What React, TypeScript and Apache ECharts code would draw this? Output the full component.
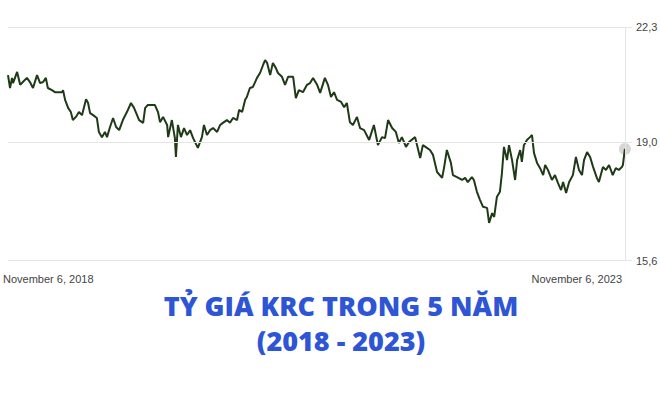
import React, { useEffect, useRef } from "react";
import * as echarts from "echarts";

// Day offsets from November 6, 2018 and KRC rate values
const dayOffsets = [
  0, 6, 12, 15, 27, 36, 44, 56, 65, 74, 86, 95, 104, 112, 118, 130, 139, 148, 160, 163,
  169, 178, 186, 192, 201, 210, 219, 225, 231, 237, 243, 252, 263, 269, 278, 287, 293, 302, 311, 320,
  329, 340, 352, 364, 373, 382, 388, 400, 406, 414, 426, 435, 444, 450, 459, 471, 474, 485, 494, 497,
  503, 512, 521, 530, 539, 548, 562, 574, 580, 589, 598, 607, 619, 628, 636, 648, 657, 666, 678, 684,
  693, 702, 707, 716, 725, 737, 746, 755, 761, 767, 776, 784, 793, 799, 811, 820, 829, 844, 852, 861,
  873, 885, 894, 903, 915, 924, 938, 947, 956, 965, 974, 986, 995, 1003, 1012, 1021, 1033, 1042, 1054, 1069,
  1083, 1095, 1107, 1116, 1125, 1137, 1148, 1157, 1166, 1178, 1187, 1205, 1220, 1228, 1240, 1249, 1258, 1270, 1285, 1291,
  1299, 1311, 1317, 1329, 1344, 1353, 1361, 1373, 1379, 1388, 1397, 1406, 1418, 1424, 1433, 1439, 1447, 1456, 1462, 1468,
  1477, 1483, 1492, 1501, 1507, 1516, 1521, 1527, 1536, 1545, 1551, 1557, 1566, 1575, 1584, 1590, 1598, 1610, 1619, 1628,
  1637, 1643, 1652, 1661, 1672, 1681, 1690, 1699, 1705, 1714, 1723, 1732, 1743, 1749, 1761, 1770, 1779, 1790, 1799, 1808,
  1817, 1820, 1826,
];

const rates = [
  20.92, 20.55, 20.84, 20.69, 21.01, 20.64, 20.72, 20.84, 20.72, 20.55, 20.92, 20.69, 20.72, 20.84, 20.55, 20.49, 20.43, 20.43, 20.43, 20.49,
  20.21, 19.98, 19.86, 19.63, 19.72, 19.86, 19.77, 20.0, 20.23, 20.12, 19.83, 19.77, 19.69, 19.29, 19.14, 19.29, 19.14, 19.43, 19.69, 19.43,
  19.34, 19.63, 19.86, 20.12, 19.98, 19.77, 19.63, 19.55, 19.98, 20.06, 20.06, 20.06, 19.86, 19.57, 19.72, 19.49, 19.14, 19.63, 19.11, 18.57,
  19.49, 19.14, 19.4, 19.2, 19.34, 19.11, 18.83, 19.14, 19.49, 19.2, 19.34, 19.4, 19.29, 19.49, 19.55, 19.63, 19.55, 19.69, 19.63, 19.92,
  19.86, 20.21, 20.29, 20.55, 20.58, 20.84, 20.98, 21.21, 21.35, 21.27, 20.92, 21.27, 21.12, 20.98, 20.87, 20.64, 20.87, 20.87, 20.26, 20.49,
  20.43, 20.64, 20.69, 20.84, 20.64, 20.41, 20.84, 20.64, 20.29, 20.43, 20.21, 20.15, 20.0, 20.12, 19.57, 19.49, 19.72, 19.4, 19.34, 19.06,
  19.49, 18.91, 19.14, 19.11, 19.63, 19.4, 19.29, 18.97, 19.14, 18.86, 19.0, 19.14, 18.54, 18.91, 18.83, 18.77, 18.63, 18.14, 17.97, 18.28,
  18.77, 18.4, 18.05, 17.99, 17.91, 17.97, 17.85, 17.99, 17.91, 17.57, 17.34, 17.14, 17.11, 16.68, 16.96, 16.85, 17.42, 17.57, 18.11, 18.86,
  18.48, 18.91, 18.48, 17.91, 18.48, 18.77, 18.43, 18.91, 19.06, 19.14, 19.2, 18.68, 18.4, 18.25, 18.05, 18.34, 18.2, 17.91, 18.05, 17.82,
  17.62, 17.85, 17.54, 17.85, 18.05, 18.57, 18.2, 18.05, 18.48, 18.71, 18.57, 18.28, 17.97, 17.85, 18.28, 18.2, 18.34, 18.05, 18.25, 18.2,
  18.28, 18.34, 18.8,
];

const yTicks = [15.6, 19.0, 22.3];
const xLabels = ["November 6, 2018", "November 6, 2023"];
const titleLines = ["TỶ GIÁ KRC TRONG 5 NĂM", "(2018 - 2023)"];

const DAY = 86400000;
const START = Date.UTC(2018, 10, 6);
const END = Date.UTC(2023, 10, 6);

export default function App() {
  const ref = useRef<HTMLDivElement>(null);

  useEffect(() => {
    if (!ref.current) return;
    const chart = echarts.init(ref.current, undefined, { renderer: "svg" });
    const data = dayOffsets.map((d, i) => [START + d * DAY, rates[i]]);
    const last = data[data.length - 1];
    const labelFont = '"Liberation Sans", Arial, sans-serif';
    const titleFont = '800 27px "Open Sans", sans-serif';

    chart.setOption({
      animation: false,
      backgroundColor: "#ffffff",
      grid: { left: 8, right: 28, top: 27, bottom: 143.5, containLabel: false },
      xAxis: {
        type: "time",
        min: START,
        max: END + 21 * DAY,
        show: false,
      },
      yAxis: {
        type: "value",
        min: 15.6,
        max: 22.3,
        position: "right",
        show: false,
      },
      series: [
        {
          type: "scatter",
          z: 1,
          data: [last],
          symbolSize: 12,
          itemStyle: { color: "rgba(170,170,170,0.6)" },
          silent: true,
          markLine: {
            silent: true,
            symbol: "none",
            animation: false,
            lineStyle: { color: "#e5e5e5", width: 1, type: "solid" },
            label: {
              position: "end",
              distance: 4,
              color: "#444",
              fontSize: 11,
              fontFamily: labelFont,
              padding: [0, 0, 4, 0],
            },
            data: [
              ...yTicks.map((v) => ({
                yAxis: v,
                label: { formatter: v.toFixed(1).replace(".", ",") },
              })),
              { xAxis: END, label: { show: false } },
            ],
          },
        },
        {
          type: "line",
          z: 2,
          data,
          showSymbol: false,
          lineStyle: { color: "#1e3a16", width: 2 },
          silent: true,
        },
      ],
      graphic: [
        {
          type: "text",
          left: 3,
          top: 273,
          style: { text: xLabels[0], fill: "#444", font: `11px ${labelFont}` },
        },
        {
          type: "text",
          right: 38,
          top: 273,
          style: { text: xLabels[1], fill: "#444", font: `11px ${labelFont}` },
        },
        {
          type: "text",
          x: 341,
          y: 305,
          style: {
            text: titleLines[0],
            fill: "#2d55d6",
            font: titleFont,
            align: "center",
            verticalAlign: "middle",
          },
        },
        {
          type: "text",
          x: 341,
          y: 340,
          style: {
            text: titleLines[1],
            fill: "#2d55d6",
            font: titleFont,
            align: "center",
            verticalAlign: "middle",
          },
        },
      ],
    });

    return () => chart.dispose();
  }, []);

  return (
    <div
      ref={ref}
      style={{ position: "absolute", left: 0, top: 0, width: 660, height: 404 }}
    />
  );
}
